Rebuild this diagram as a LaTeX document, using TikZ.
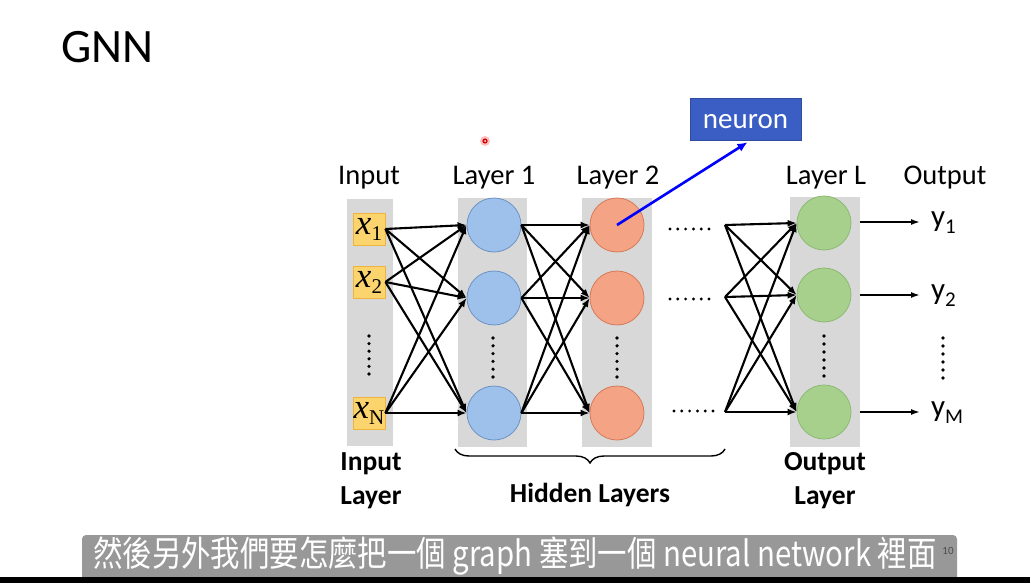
\documentclass[tikz,border=0pt]{standalone}
\usepackage{fontspec}
\setmainfont{Carlito}
\newfontfamily\cjk{Noto Sans CJK TC}
\newfontfamily\serifx{Liberation Serif}
\usetikzlibrary{arrows.meta,decorations.pathreplacing,calc}
\definecolor{colgray}{HTML}{D8D8D8}
\definecolor{inyellow}{HTML}{FCD46E}
\definecolor{inborder}{HTML}{EFB43C}
\definecolor{bluefill}{HTML}{9DC1EA}
\definecolor{blueline}{HTML}{6D93C4}
\definecolor{orfill}{HTML}{F4A384}
\definecolor{orline}{HTML}{D77A5A}
\definecolor{grfill}{HTML}{A8D08D}
\definecolor{grline}{HTML}{8DBA72}
\definecolor{neuronblue}{HTML}{3A5EC4}
\definecolor{subgray}{HTML}{989898}
\tikzset{
  inbox/.style={fill=inyellow, draw=inborder, line width=0.8pt, minimum width=32pt, minimum height=32pt, inner sep=0pt},
  neur/.style={circle, minimum size=54pt, inner sep=0pt, line width=0.8pt},
  l1n/.style={neur, fill=bluefill, draw=blueline},
  l2n/.style={neur, fill=orfill, draw=orline},
  lLn/.style={neur, fill=grfill, draw=grline},
  conn/.style={line width=2.1pt, -{Latex[length=9pt,width=7pt]}},
  outconn/.style={line width=1.6pt, -{Latex[length=9pt,width=6pt]}},
  lab/.style={font=\fontsize{28.5}{30}\selectfont, inner sep=0pt},
  blab/.style={font=\fontsize{27.5}{34}\selectfont\bfseries, inner sep=0pt, align=center},
  ylab/.style={font=\fontsize{31}{31}\selectfont, inner sep=0pt, anchor=west},
}
\newcommand{\vdotscol}[3]{\foreach \k in {0,...,5}{\fill (#1,{#2+\k*(#3-#2)/5}) circle (1.8pt);}}
\newcommand{\hdotsrow}[3]{\foreach \k in {0,...,5}{\fill ({#1+\k*(#3-#1)/5},#2) circle (1.6pt);}}
\newcommand{\ysub}[1]{y\raisebox{-7pt}{\fontsize{21}{21}\selectfont #1}}
\newcommand{\xsub}[1]{{\serifx\fontsize{35}{35}\selectfont\itshape x}\raisebox{-6pt}{\serifx\fontsize{21}{21}\selectfont #1}}
\begin{document}
\begin{tikzpicture}[x=1pt,y=-1pt]
\useasboundingbox (0,0) rectangle (1030,583);
\fill[white] (0,0) rectangle (1030,583);

% title
\node[anchor=west, inner sep=0pt, font=\fontsize{48}{50}\selectfont] (title) at (61,47) {GNN};

% columns
\fill[colgray] (347,199) rectangle (393,446);
\fill[colgray] (458,198) rectangle (527,447);
\fill[colgray] (582,198) rectangle (652,447);
\fill[colgray] (790,197) rectangle (860,447);

% input boxes
\node[inbox] (x1) at (369,229) {\xsub{1}};
\node[inbox] (x2) at (369,282) {\xsub{2}};
\node[inbox] (xN) at (369,413) {\xsub{N}};

% layer 1
\node[l1n] (a1) at (494,225) {};
\node[l1n] (a2) at (494,298) {};
\node[l1n] (a3) at (494,413) {};
% layer 2
\node[l2n] (b1) at (617,225) {};
\node[l2n] (b2) at (617,298) {};
\node[l2n] (b3) at (617,413) {};
% layer L
\node[lLn] (c1) at (824,223) {};
\node[lLn] (c2) at (824,295) {};
\node[lLn] (c3) at (824,412) {};

% free source points before layer L
\coordinate (s1) at (725,225);
\coordinate (s2) at (725,297);
\coordinate (s3) at (725,412);

% connections
\foreach \i in {x1,x2,xN}{\foreach \j in {a1,a2,a3}{\draw[conn] (\i.east) -- (\j.west);}}
\foreach \i in {a1,a2,a3}{\foreach \j in {b1,b2,b3}{\draw[conn] (\i.east) -- (\j.west);}}
\foreach \i in {s1,s2,s3}{\foreach \j in {c1,c2,c3}{\draw[conn] (\i) -- (\j.west);}}

% outputs
\node[ylab] (y1) at (931,223) {\ysub{1}};
\node[ylab] (y2) at (931,296) {\ysub{2}};
\node[ylab] (yM) at (931,413) {\ysub{M}};
\coordinate (o1) at (860,222);
\coordinate (o2) at (860,295);
\coordinate (o3) at (860,412);
\draw[outconn] (o1) -- ($(o1)+(60,0)$);
\draw[outconn] (o2) -- ($(o2)+(60,0)$);
\draw[outconn] (o3) -- ($(o3)+(60,0)$);

% dots
\vdotscol{369}{336}{374}
\vdotscol{493}{338}{377}
\vdotscol{617}{338}{377}
\vdotscol{824}{336}{376}
\vdotscol{943}{338}{378}
\hdotsrow{670}{229}{709}
\hdotsrow{670}{299}{709}
\hdotsrow{674}{411}{713}

% labels
\node[lab] (lin) at (369,178) {Input};
\node[lab] (l1) at (494,178) {Layer 1};
\node[lab] (l2) at (618,178) {Layer 2};
\node[lab] (lL) at (826,178) {Layer L};
\node[lab] (lout) at (945,178) {Output};

\node[blab] (inl) at (371,481) {Input\\Layer};
\node[blab] (hidl) at (590,495) {Hidden Layers};
\node[blab] (outl) at (825,481) {Output\\Layer};

% brace
\coordinate (bl) at (455,449);
\coordinate (br) at (725,449);
\draw[line width=1.4pt, decorate, decoration={brace, mirror, amplitude=14pt}] (bl) -- (br);

% neuron callout
\node[fill=neuronblue, draw=neuronblue!80!black, line width=0.6pt, minimum width=111pt, minimum height=42pt, inner sep=0pt] (neuron) at (745.5,119) {};
\node[inner sep=0pt, text=white, font=\fontsize{29}{30}\selectfont] (neurontxt) at (745.5,122) {neuron};
\draw[blue, line width=2.6pt, -{Latex[length=10pt,width=9pt]}] (b1.center) -- ($(neuron.south)+(2,2)$);

% laser pointer dot
\fill[red!25] (485,141) circle (5pt);
\fill[red!80!black] (485,141) circle (2.6pt);
\fill[white] (485,141) circle (1pt);

% subtitle
\fill[subgray, rounded corners=4pt] (82,535) rectangle (957,585);
\fill[black] (0,576.5) rectangle (1030,583);
\node[inner sep=0pt, text=white, font=\cjk\fontsize{35}{38}\selectfont] (sub) at (515,556) {\scalebox{0.84}[1]{然後另外我們要怎麼把一個 graph 塞到一個 neural network 裡面}};
\node[inner sep=0pt, text=black!70, font=\fontsize{11}{12}\selectfont] (pg) at (948,551) {10};
\end{tikzpicture}
\end{document}
